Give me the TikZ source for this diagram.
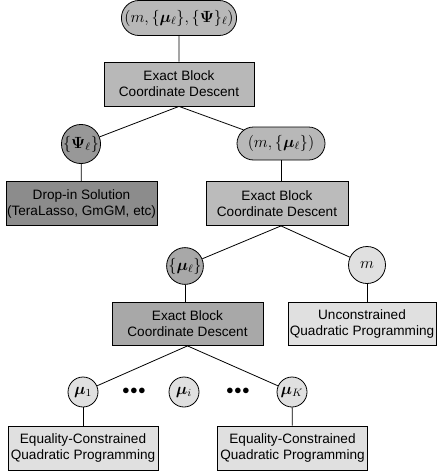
\documentclass[tikz,border=0pt]{standalone}
\usepackage{graphicx}
\usepackage{bm}
\usepackage{fontspec}
\setmainfont{Liberation Sans}
\usetikzlibrary{shapes.misc}
\definecolor{gA}{gray}{0.72}
\definecolor{gB}{gray}{0.55}
\definecolor{gC}{gray}{0.66}
\definecolor{gD}{gray}{0.88}
\newcommand{\mth}[1]{\scalebox{1.35}{$#1$}}
\tikzset{
  every node/.style={font=\fontsize{13.6}{16}\selectfont},
  mathf/.style={font=\fontsize{12}{14}\selectfont},
  box/.style={draw, thick, rectangle, align=center, minimum width=150pt, minimum height=44pt, inner sep=1pt},
  stad/.style={draw, thick, rounded rectangle, inner sep=1pt, mathf},
  circ/.style={draw, thick, circle, inner sep=0pt, mathf},
  conn/.style={thick},
  dotn/.style={inner sep=0pt}
}
\begin{document}
\begin{tikzpicture}[x=1pt,y=-1pt]
\useasboundingbox (0,0) rectangle (437,474);
\node[stad, fill=gA, minimum width=107pt, minimum height=35pt] (top) at (179,18) {\mth{(m,\{\bm{\mu}_\ell\},\{\bm{\Psi}\}_\ell)}};
\node[box, fill=gA] (b1) at (179,84) {Exact Block\\Coordinate Descent};
\node[circ, fill=gB!90!white, minimum size=37pt] (psi) at (81,144) {\mth{\{\bm{\Psi}_\ell\}}};
\node[stad, fill=gA, minimum width=90pt, minimum height=33pt] (mmu) at (281,143.5) {\mth{(m,\{\bm{\mu}_\ell\})}};
\node[box, fill=gB, minimum width=151pt] (drop) at (81.5,203.5) {Drop-in Solution\\(TeraLasso, GmGM, etc)};
\node[box, fill=gA!95!white, minimum width=142pt] (b2) at (277,203.5) {Exact Block\\Coordinate Descent};
\node[circ, fill=gC, minimum size=36pt] (mul) at (185,266) {\mth{\{\bm{\mu}_\ell\}}};
\node[circ, fill=gD, minimum size=37pt] (m) at (367,265) {\mth{m}};
\node[box, fill=gC, minimum width=151pt, minimum height=43pt] (b3) at (187.5,324) {Exact Block\\Coordinate Descent};
\node[box, fill=gD, minimum width=148pt, minimum height=43pt] (uqp) at (362,324) {Unconstrained\\Quadratic Programming};
\node[circ, fill=gD, minimum size=30pt] (mu1) at (83,392) {\mth{\bm{\mu}_1}};
\node[circ, fill=gD, minimum size=30pt] (mui) at (184,392) {\mth{\bm{\mu}_i}};
\node[circ, fill=gD, minimum size=30pt] (muK) at (292,392) {\mth{\bm{\mu}_K}};
\node[dotn] (d1) at (134,391) {\Large$\bullet\!\bullet\!\bullet$};
\node[dotn] (d2) at (238,391) {\Large$\bullet\!\bullet\!\bullet$};
\node[box, fill=gD] (eq1) at (83,448) {Equality-Constrained\\Quadratic Programming};
\node[box, fill=gD] (eq2) at (292.5,448) {Equality-Constrained\\Quadratic Programming};
\draw[conn] (top) -- (b1);
\draw[conn] (b1.south) -- (psi);
\draw[conn] (b1.south) -- (mmu);
\draw[conn] (psi) -- (drop);
\draw[conn] (mmu.south) -- (mmu.south |- b2.north);
\draw[conn] (mmu.south |- b2.south) -- (mul);
\draw[conn] (mmu.south |- b2.south) -- (m);
\draw[conn] (mul) -- (mul |- b3.north);
\draw[conn] (m) -- (m |- uqp.north);
\draw[conn] (b3.south) -- (mu1);
\draw[conn] (b3.south) -- (muK);
\draw[conn] (mu1) -- (eq1);
\draw[conn] (muK) -- (eq2);
\end{tikzpicture}
\end{document}
